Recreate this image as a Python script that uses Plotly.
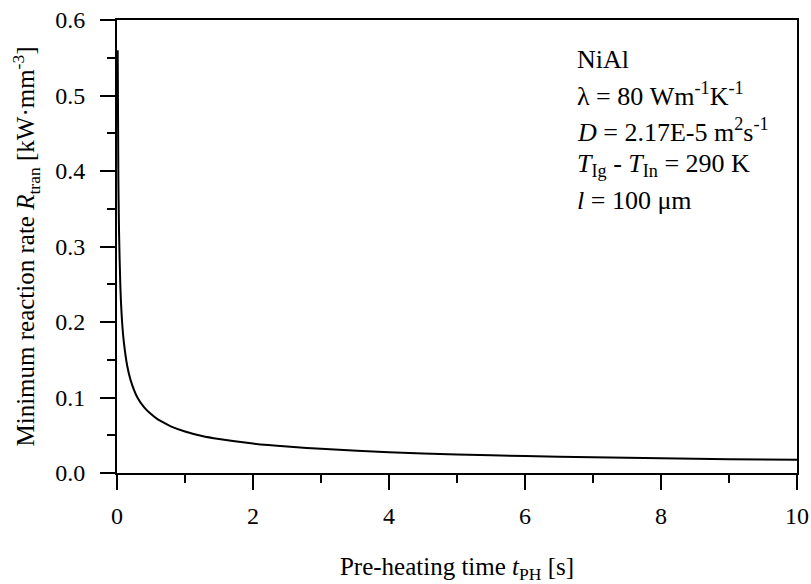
import plotly.graph_objects as go

# values
t_ph = [0.01, 0.02, 0.03, 0.05, 0.075, 0.1, 0.15, 0.2, 0.3, 0.4, 0.5, 0.6, 0.7, 0.8,
        1.0, 1.25, 1.5, 2.0, 2.5, 3.0, 4.0, 5.0, 6.0, 7.0, 8.0, 9.0, 10.0]
r_tran = [0.56, 0.39, 0.32, 0.245, 0.200, 0.174, 0.142, 0.123, 0.100, 0.087, 0.078,
          0.071, 0.066, 0.0615, 0.055, 0.049, 0.045, 0.039, 0.035, 0.032, 0.0275,
          0.0246, 0.0225, 0.0208, 0.0195, 0.0183, 0.0174]

info_lines = [
    "NiAl",
    "λ = 80 Wm<sup>-1</sup>K<sup>-1</sup>",
    "<i>D</i> = 2.17E-5 m<sup>2</sup>s<sup>-1</sup>",
    "<i>T</i><sub>Ig</sub> - <i>T</i><sub>In</sub> = 290 K",
    "<i>l</i> = 100 μm",
]

font = "Liberation Serif"

fig = go.Figure()
fig.add_trace(go.Scatter(x=t_ph, y=r_tran, mode="lines",
                         line=dict(color="black", width=2, shape="spline", smoothing=0.8),
                         showlegend=False))

axis_style = dict(showline=True, linecolor="black", linewidth=2, mirror=True,
                  showgrid=False, zeroline=False, ticks="outside", ticklen=15,
                  tickwidth=2, tickcolor="black", ticklabeloverflow="allow",
                  automargin=False,
                  tickfont=dict(family=font, size=24, color="black"))

fig.update_xaxes(range=[0, 10], tickvals=[0, 2, 4, 6, 8, 10],
                 ticklabelstandoff=5,
                 minor=dict(ticks="outside", ticklen=8, tickwidth=2,
                            tickcolor="black", dtick=1, tick0=0),
                 title=dict(text="Pre-heating time <i>t</i><sub>PH</sub> [s]",
                            font=dict(family=font, size=25, color="black"),
                            standoff=32),
                 **axis_style)
fig.update_yaxes(range=[0, 0.6], tickvals=[0, 0.1, 0.2, 0.3, 0.4, 0.5, 0.6],
                 tickformat=".1f", ticklabelstandoff=10,
                 minor=dict(ticks="outside", ticklen=8, tickwidth=2,
                            tickcolor="black", dtick=0.05, tick0=0),
                 title=dict(text="Minimum reaction rate <i>R</i><sub>tran</sub> [kW·mm<sup>-3</sup>]",
                            font=dict(family=font, size=25, color="black"),
                            standoff=13),
                 **axis_style)

y0 = 0.912
for i, line in enumerate(info_lines):
    fig.add_annotation(x=0.6735, y=y0 - i * 0.0775, xref="paper", yref="paper",
                       text=line, showarrow=False, xanchor="left", yanchor="middle",
                       font=dict(family=font, size=26, color="black"))

fig.update_layout(width=811, height=584, plot_bgcolor="white", paper_bgcolor="white",
                  margin=dict(l=117, r=14, t=20, b=111))

# drop the default 8px body margin so the figure fills the window
fig.write_html("out.html", config={"displayModeBar": False},
               post_script="document.body.style.margin='0';")
